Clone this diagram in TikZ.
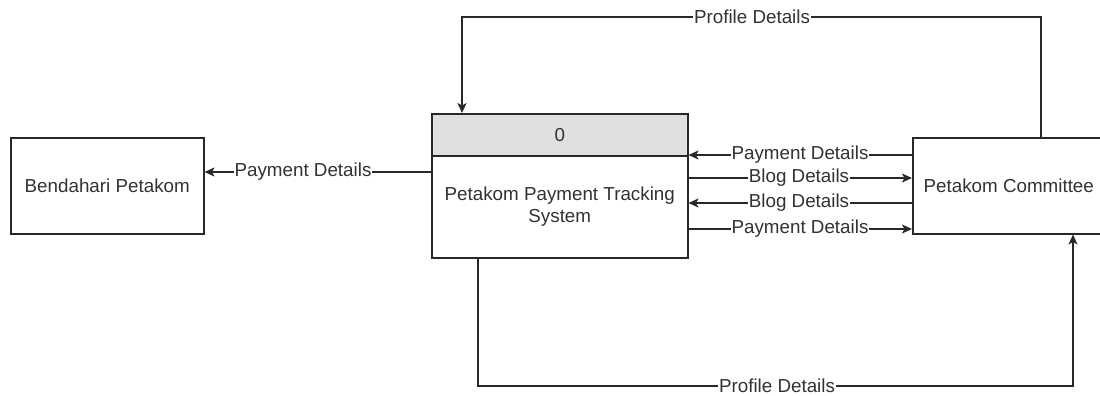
\documentclass[tikz,border=0pt]{standalone}
\usepackage{fontspec}
\setmainfont{Liberation Sans}
\usetikzlibrary{arrows.meta}
\definecolor{hdr}{RGB}{224,224,224}
\definecolor{ink}{RGB}{40,40,40}
\definecolor{txt}{RGB}{50,50,50}
\begin{document}
\begin{tikzpicture}[x=1pt,y=-1pt,
  every node/.style={font=\fontsize{18.8}{22.5}\selectfont, text=txt},
  boxst/.style={draw=ink, line width=1.5pt, rectangle, inner sep=0pt, anchor=north west, align=center},
  flow/.style={draw=ink, line width=1.5pt},
  arr/.style={flow, -{Stealth[length=10pt,width=9pt,inset=2.5pt]}},
  lbl/.style={fill=white, inner sep=1pt}]
\useasboundingbox (0,0) rectangle (1100,396);
\begin{scope}
\clip (0,0) rectangle (1100,396);
\node[boxst, minimum width=193pt, minimum height=96pt] (bend) at (10,137) {Bendahari Petakom};
\node[boxst, fill=hdr, minimum width=256pt, minimum height=42pt] (phead) at (431,113) {0};
\node[boxst, minimum width=256pt, minimum height=102pt] (pbody) at (431,155) {Petakom Payment Tracking\\System};
\node[boxst, minimum width=192pt, minimum height=96pt] (comm) at (912,137) {Petakom Committee};

% left flow
\draw[arr] (pbody.west |- 0,172) -- (bend.east |- 0,172);
\node[lbl] (l1) at (303,172) {Payment Details};

% right flows
\draw[arr] (comm.west |- 0,155) -- (pbody.east |- 0,155);
\node[lbl] (l2) at (800,155) {Payment Details};
\draw[arr] (pbody.east |- 0,178) -- (comm.west |- 0,178);
\node[lbl] (l3) at (799,178) {Blog Details};
\draw[arr] (comm.west |- 0,203) -- (pbody.east |- 0,203);
\node[lbl] (l4) at (799,203) {Blog Details};
\draw[arr] (pbody.east |- 0,229) -- (comm.west |- 0,229);
\node[lbl] (l5) at (800,229) {Payment Details};

% top loop
\coordinate (t1) at (1041,17);
\coordinate (t2) at (462,17);
\draw[arr] (comm.north -| t1) -- (t1) -- (t2) -- (phead.north -| t2);
\node[lbl] (l6) at (752,17) {Profile Details};

% bottom loop
\coordinate (b1) at (478,386);
\coordinate (b2) at (1073,386);
\draw[arr] (pbody.south -| b1) -- (b1) -- (b2) -- (comm.south -| b2);
\node[lbl] (l7) at (777,386) {Profile Details};
\end{scope}
\end{tikzpicture}
\end{document}
